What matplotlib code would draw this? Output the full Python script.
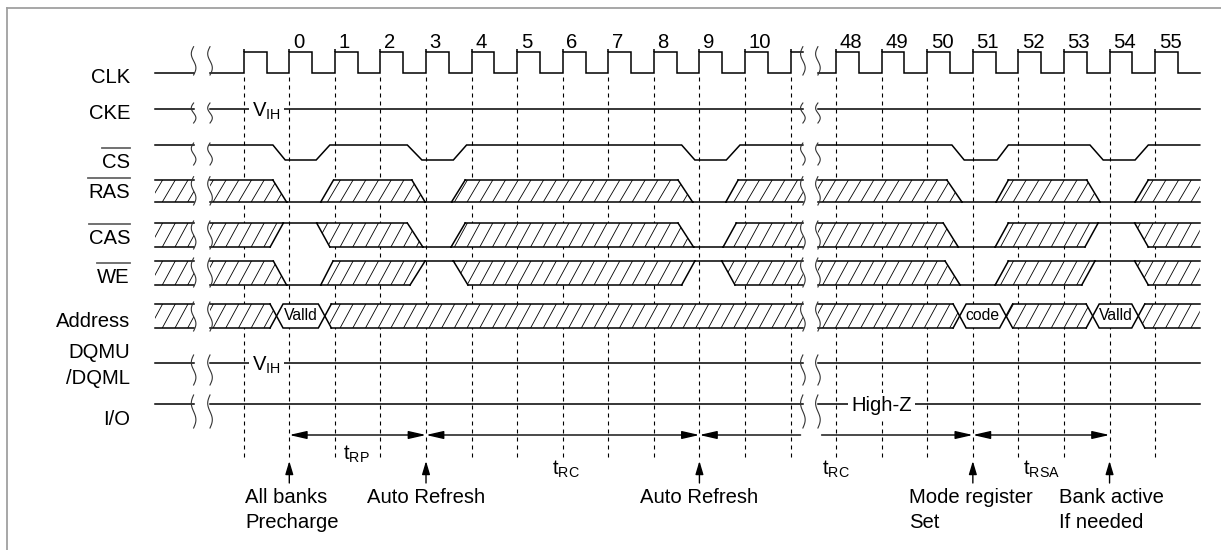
import numpy as np
import matplotlib
matplotlib.use("Agg")
import matplotlib.pyplot as plt
from matplotlib.patches import Polygon
from matplotlib.collections import LineCollection

plt.rcParams["font.family"] = ["Liberation Sans", "DejaVu Sans"]
plt.rcParams["mathtext.fontset"] = "custom"
plt.rcParams["mathtext.rm"] = "Liberation Sans"
plt.rcParams["mathtext.it"] = "Liberation Sans"

# ---------------- data: times in clock cycles, edge "0" = 0 ----------------
clock_edges = list(range(-1, 20))
clock_labels = [""] + [str(i) for i in range(11)] + [""] + [str(i) for i in range(48, 56)]
t_begin, t_finish = -2.95, 19.98
breaks = [(-2.10, -1.74), (11.27, 11.60)]

cmd_edges = [0, 3, 9, 15, 18]
cmd_names = ["All banks\nPrecharge", "Auto Refresh", "Auto Refresh",
             "Mode register\nSet", "Bank active\nIf needed"]

# CS low pulses: (fall start, fall end, rise start, rise end)
cs_pulses = [(-0.36, -0.09, 0.59, 0.89), (2.59, 2.91, 3.60, 3.89), (8.61, 8.90, 9.59, 9.89),
             (14.54, 14.81, 15.53, 15.78), (17.57, 17.86, 18.56, 18.85)]

# command windows of the hatched rows: level and (hatch end, level reached, leave level, hatch full)
ras_levels = ["L", "L", "L", "L", "L"]
ras_times = [(-0.36, -0.06, 0.69, 0.97), (2.69, 2.98, 3.56, 3.86), (8.53, 8.85, 9.58, 9.85),
             (14.43, 14.76, 15.51, 15.78), (17.50, 17.79, 18.56, 18.85)]
cas_levels = ["H", "L", "L", "L", "H"]
cas_times = [(-0.42, -0.13, 0.60, 0.89), (2.59, 2.93, 3.55, 3.86), (8.53, 8.87, 9.52, 9.81),
             (14.35, 14.68, 15.49, 15.78), (17.46, 17.75, 18.55, 18.85)]
we_levels = ["L", "H", "H", "L", "H"]
we_times = [(-0.35, -0.06, 0.69, 0.96), (2.65, 2.98, 3.60, 3.92), (8.61, 8.90, 9.49, 9.78),
            (14.39, 14.72, 15.49, 15.78), (17.39, 17.68, 18.55, 18.85)]

addr_windows = [(-0.28, 0.78), (14.71, 15.73), (17.63, 18.63)]
addr_texts = ["Valld", "code", "Valld"]

spans = [(0, 3), (3, 9), (9, 15), (15, 18)]
span_names = ["RP", "RC", "RC", "RSA"]

# ---------------- layout (pixels) ----------------
PX0, PPC = 289.3, 45.57          # pixel x of edge 0, pixels per clock


def cx(px):
    return (px - PX0) / PPC


LW = 1.1
FS = 14.6
rows = {"CLK": (52, 73), "CKE": 109, "CS": (145, 160), "RAS": (180, 202),
        "CAS": (223, 247), "WE": (261, 285), "Address": (304, 328),
        "DQM": 363, "IO": 404}
squig = [(46.7, 75), (103, 123), (143, 165), (176.7, 205), (221, 249),
         (258, 287), (302, 331), (355, 385), (395, 428)]
labels = [("CLK", 83.3, False), ("CKE", 119.3, False), ("CS", 168.3, True),
          ("RAS", 198.5, True), ("CAS", 244.3, True), ("WE", 283.3, True),
          ("Address", 327.3, False), ("DQMU", 358.3, False), ("/DQML", 384.3, False),
          ("I/O", 425, False)]

fig = plt.figure(figsize=(12.21, 5.5), dpi=100)
ax = fig.add_axes([0, 0, 1, 1])
ax.set_xlim(cx(0), cx(1221))
ax.set_ylim(550, 0)
ax.axis("off")

# frame
ax.plot([cx(7), cx(1221)], [8.3, 8.3], color="#a0a0a0", lw=1.3)
ax.plot([cx(7), cx(7)], [8.3, 550], color="#a0a0a0", lw=1.3)


def cut(pts):
    """split a polyline (monotonic in t) at the break gaps"""
    xs = np.array([p[0] for p in pts])
    ys = np.array([p[1] for p in pts])
    bounds = [t_begin] + [v for b in breaks for v in b] + [t_finish]
    segs = []
    for a, b in zip(bounds[0::2], bounds[1::2]):
        m = (xs > a) & (xs < b)
        sx = [a] + list(xs[m]) + [b]
        sy = [np.interp(a, xs, ys)] + list(ys[m]) + [np.interp(b, xs, ys)]
        segs.append((sx, sy))
    return segs


def draw_line(pts, z=5):
    for sx, sy in cut(pts):
        ax.plot(sx, sy, color="black", lw=LW, zorder=z, solid_joinstyle="miter")


# dashed clock-edge lines
ax.vlines(clock_edges, 77, 457, colors="black", lw=0.8, linestyles=(0, (3.6, 3.6)), zorder=1)

# ---- CLK ----
hi, lo = rows["CLK"]
pts = [(t_begin, lo), (-1, lo)]
lvl = hi
k = -1.0
while k < t_finish:
    pts.append((k, lvl))
    k += 0.5
    if k < t_finish:
        pts.append((k, lvl))
        lvl = lo if lvl == hi else hi
pts.append((t_finish, pts[-1][1]))
draw_line(pts)
ax.vlines(clock_edges, hi - 3.5, hi, colors="black", lw=LW, zorder=5)
for e, lab in zip(clock_edges, clock_labels):
    if lab:
        ax.text(e + cx(PX0 + 3.5), 48.5, lab, fontsize=FS, ha="left", va="baseline")

# ---- CS ----
hi, lo = rows["CS"]
pts = [(t_begin, hi)]
for f0, f1, r0, r1 in cs_pulses:
    pts += [(f0, hi), (f1, lo), (r0, lo), (r1, hi)]
pts.append((t_finish, hi))
draw_line(pts)

# ---- single level rows ----
for key in ["CKE", "DQM", "IO"]:
    y = rows[key]
    draw_line([(t_begin, y), (t_finish, y)])
for y in [rows["CKE"], rows["DQM"]]:
    ax.text(-0.5, y + 7.5, r"V$_{\mathrm{IH}}$", fontsize=FS, ha="center", va="baseline",
            zorder=6, bbox=dict(fc="white", ec="none", pad=2.5))
ax.text(13, rows["IO"] + 7.2, "High-Z", fontsize=FS, ha="center", va="baseline", zorder=6,
        bbox=dict(fc="white", ec="none", pad=2.5))

# ---- hatched rows ----
H_X = 6.5 / PPC
HATCH_STEP = 12.7 / PPC
HATCH_RUN = 13.0 / PPC


def side_left(spec, top, bot):
    kind = spec[0]
    mid = (top + bot) / 2
    if kind == "open":
        return [(spec[1], bot), (spec[1], top)], False
    if kind == "L":
        return [(spec[1], bot), (spec[2], top)], True
    if kind == "H":
        return [(spec[2], bot), (spec[1], top)], True
    p = spec[1]
    return [(p + H_X, bot), (p, mid), (p + H_X, top)], True


def side_right(spec, top, bot):
    kind = spec[0]
    mid = (top + bot) / 2
    if kind == "open":
        return [(spec[1], top), (spec[1], bot)], False
    if kind == "L":
        return [(spec[1], top), (spec[2], bot)], True
    if kind == "H":
        return [(spec[2], top), (spec[1], bot)], True
    p = spec[1]
    return [(p - H_X, top), (p, mid), (p - H_X, bot)], True


def spec_x(spec):
    return spec[1]


def hatched(left, right, top, bot):
    # split at breaks
    a, b = spec_x(left), spec_x(right)
    for ba, bb in breaks:
        if a < ba and bb < b:
            hatched(left, ("open", ba), top, bot)
            hatched(("open", bb), right, top, bot)
            return
    lv, lstroke = side_left(left, top, bot)
    rv, rstroke = side_right(right, top, bot)
    verts = lv + rv
    poly = Polygon(verts, closed=True, fc="white", ec="none", zorder=3)
    ax.add_patch(poly)
    xs = [v[0] for v in verts]
    k0 = int(np.floor((min(xs) - HATCH_RUN) / HATCH_STEP)) - 1
    k1 = int(np.ceil(max(xs) / HATCH_STEP)) + 1
    segs = [[(k * HATCH_STEP, bot), (k * HATCH_STEP + HATCH_RUN, top)] for k in range(k0, k1 + 1)]
    lc = LineCollection(segs, colors="black", linewidths=0.6, zorder=4)
    lc.set_clip_path(poly)
    ax.add_collection(lc)
    strokes = [[lv[-1], rv[0]], [rv[-1], lv[0]]]
    if lstroke:
        strokes.append(lv)
    if rstroke:
        strokes.append(rv)
    for s in strokes:
        ax.plot([p[0] for p in s], [p[1] for p in s], color="black", lw=LW, zorder=5,
                solid_joinstyle="miter")


for key, levels, times in [("RAS", ras_levels, ras_times), ("CAS", cas_levels, cas_times),
                           ("WE", we_levels, we_times)]:
    top, bot = rows[key]
    specs = [(lev, t[0], t[1]) for lev, t in zip(levels, times)]
    restarts = [(lev, t[2], t[3]) for lev, t in zip(levels, times)]
    lefts = [("open", t_begin)] + restarts
    rights = specs + [("open", t_finish)]
    for l, r in zip(lefts, rights):
        hatched(l, r, top, bot)
    for lev, t in zip(levels, times):
        y = bot if lev == "L" else top
        ax.plot([t[1], t[2]], [y, y], color="black", lw=LW, zorder=5)

top, bot = rows["Address"]
lefts = [("open", t_begin)] + [("X", w[1]) for w in addr_windows]
rights = [("X", w[0]) for w in addr_windows] + [("open", t_finish)]
for l, r in zip(lefts, rights):
    hatched(l, r, top, bot)
mid = (top + bot) / 2
for (p1, p2), txt in zip(addr_windows, addr_texts):
    hexv = [(p1, mid), (p1 + H_X, top), (p2 - H_X, top), (p2, mid), (p2 - H_X, bot), (p1 + H_X, bot)]
    ax.add_patch(Polygon(hexv, closed=True, fc="white", ec="black", lw=LW, zorder=5))
    ax.text((p1 + p2) / 2, mid, txt, fontsize=11.3, ha="center", va="center", zorder=6)

# ---- break squiggles ----
s = np.linspace(0, 1, 40)
for ba, bb in breaks:
    for xb in (ba, bb):
        for y0, y1 in squig:
            ax.plot(xb - 2.3 / PPC * np.sin(2 * np.pi * s), y0 + (y1 - y0) * s,
                    color="#333333", lw=0.8, zorder=7)

# ---- row labels ----
fig.canvas.draw()
over = []
for name, base, ov in labels:
    t = ax.text(cx(130), base, name, fontsize=FS, ha="right", va="baseline")
    if ov:
        over.append((t, base - 20.5))
fig.canvas.draw()
rend = fig.canvas.get_renderer()
inv = ax.transData.inverted()
for t, yo in over:
    bb = t.get_window_extent(rend)
    x0 = inv.transform((bb.x0, 0))[0]
    x1 = inv.transform((bb.x1, 0))[0]
    ax.plot([x0, x1], [yo, yo], color="#666666", lw=1.3)

# ---- timing arrows ----
ARROW_Y = 435
head2 = "<|-|>,head_length=1.05,head_width=0.24"
for (a, b), nm in zip(spans, span_names):
    if a < breaks[1][0] < b:
        ax.annotate("", xy=(a, ARROW_Y), xytext=(breaks[1][0] - 0.05, ARROW_Y),
                    arrowprops=dict(arrowstyle="-|>,head_length=1.05,head_width=0.24", color="black",
                                    lw=1, shrinkA=0, shrinkB=0), zorder=6)
        ax.annotate("", xy=(b, ARROW_Y), xytext=(breaks[1][1] + 0.08, ARROW_Y),
                    arrowprops=dict(arrowstyle="-|>,head_length=1.05,head_width=0.24", color="black",
                                    lw=1, shrinkA=0, shrinkB=0), zorder=6)
    else:
        ax.annotate("", xy=(b, ARROW_Y), xytext=(a, ARROW_Y),
                    arrowprops=dict(arrowstyle=head2, color="black", lw=1, shrinkA=0, shrinkB=0),
                    zorder=6)

span_label_pos = [(343.3, 460), (552, 475), (821.7, 475), (1022.7, 475)]
for nm, (px, base) in zip(span_names, span_label_pos):
    ax.text(cx(px), base, r"t$_{\mathrm{%s}}$" % nm, fontsize=FS, ha="left", va="baseline")

# ---- command arrows and notes ----
cmd_dx = [-44.3, 0, 0, -63.7, -50.4]
cmd_ha = ["left", "center", "center", "left", "left"]
for c, name, dx, ha in zip(cmd_edges, cmd_names, cmd_dx, cmd_ha):
    ax.annotate("", xy=(c, 461), xytext=(c, 483),
                arrowprops=dict(arrowstyle="-|>,head_length=0.8,head_width=0.24", color="black",
                                lw=1, shrinkA=0, shrinkB=0), zorder=6)
    for i, line in enumerate(name.split("\n")):
        ax.text(c + dx / PPC, 502.7 + 25 * i, line, fontsize=FS, ha=ha, va="baseline")

fig.savefig("out.png", dpi=100)
